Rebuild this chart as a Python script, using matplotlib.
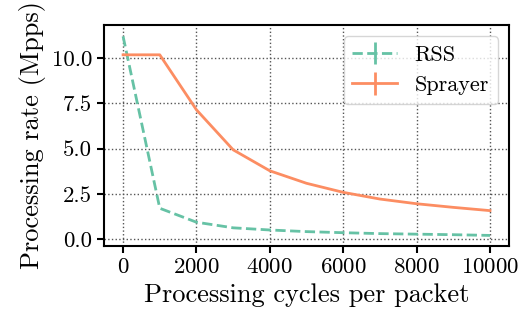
import matplotlib
matplotlib.use('Agg')
from matplotlib import pyplot as plt

plt.rcParams['font.family'] = 'serif'
plt.rcParams['font.serif'] = ['cmr10']
plt.rcParams['mathtext.fontset'] = 'cm'
plt.rcParams['axes.formatter.use_mathtext'] = True

cycles = [0, 1000, 2000, 3000, 4000, 5000, 6000, 7000, 8000, 9000, 10000]
rss = [11.2, 1.7, 0.93, 0.62, 0.5, 0.41, 0.35, 0.3, 0.27, 0.24, 0.2]
sprayer = [10.18, 10.18, 7.14, 4.93, 3.77, 3.08, 2.58, 2.21, 1.95, 1.75, 1.57]
zero_err = [0.0] * len(cycles)

fig = plt.figure(figsize=(5.2, 3.24), dpi=100)
ax = fig.add_axes([0.2, 0.241, 0.779, 0.682])

ax.errorbar(cycles, rss, yerr=zero_err, label='RSS', color='#66c2a5',
            linestyle='--', linewidth=2)
ax.errorbar(cycles, sprayer, yerr=zero_err, label='Sprayer', color='#fc8d62',
            linestyle='-', linewidth=2)

ax.set_xlim(-520, 10520)
ax.set_ylim(-0.38, 11.83)
ax.set_xticks([0, 2000, 4000, 6000, 8000, 10000])
ax.set_yticks([0.0, 2.5, 5.0, 7.5, 10.0])
ax.set_yticklabels(['0.0', '2.5', '5.0', '7.5', '10.0'])

ax.grid(True, linestyle=':', color='#555555', linewidth=1)
for s in ax.spines.values():
    s.set_linewidth(1.5)
ax.tick_params(direction='out', length=5, width=1.5, labelsize=16.5)

ax.set_xlabel('Processing cycles per packet', fontsize=19)
ax.set_ylabel('Processing rate (Mpps)', fontsize=19)

ax.legend(loc='upper right', fontsize=16, handlelength=2.0, framealpha=0.8)

fig.savefig('out.png', dpi=100)
